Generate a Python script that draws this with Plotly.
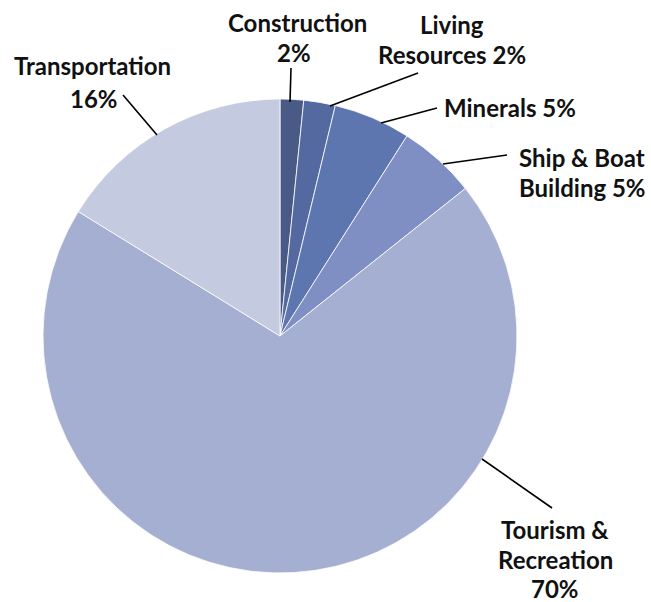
import plotly.graph_objects as go

# Data
categories = ["Construction", "Living Resources", "Minerals", "Ship & Boat Building",
              "Tourism & Recreation", "Transportation"]
values = [1.6, 2.15, 5.25, 5.3, 69.5, 16.2]
pct_labels = ["2%", "2%", "5%", "5%", "70%", "16%"]
colors = ["#4a5a86", "#53699f", "#5e76b0", "#7f8fc3", "#a5afd2", "#c4cadf"]

W, H = 651, 602
CX, CY, R = 280, 336, 237

def px(x):
    return x / W

def py(y):
    return 1 - y / H

fig = go.Figure(go.Pie(
    labels=categories,
    values=values,
    sort=False,
    direction="clockwise",
    rotation=0,
    marker=dict(colors=colors, line=dict(color="white", width=0.8)),
    textinfo="none",
    hoverinfo="label+percent",
    showlegend=False,
    domain=dict(x=[px(CX - R), px(CX + R)], y=[py(CY + R), py(CY - R)]),
))

FONT = dict(family="Lato", size=24, color="#111111", weight="bold")

# label lines: (text, x, y, xanchor)
label_lines = [
    ("Construction", 297, 22, "center"),
    ("2%", 294, 52, "center"),
    ("Living", 452, 25, "center"),
    ("Resources 2%", 452, 55, "center"),
    ("Minerals 5%", 510, 107, "center"),
    ("Ship & Boat", 517, 157, "left"),
    ("Building 5%", 517, 187, "left"),
    ("Tourism &", 555, 529, "center"),
    ("Recreation", 555, 559, "center"),
    ("70%", 555, 588, "center"),
    ("Transportation", 92, 66, "center"),
    ("16%", 94, 98, "center"),
]
annotations = []
for t, x, y, xa in label_lines:
    annotations.append(dict(text=t, x=px(x), y=py(y), xref="paper", yref="paper",
                            xanchor=xa, yanchor="middle", showarrow=False, font=FONT))

# leader lines (pixel endpoints)
leaders = [
    (290, 102, 291, 68),
    (330, 106, 418, 73),
    (381, 123, 437, 108),
    (443, 164, 507, 155),
    (482, 459, 552, 508),
    (157, 135, 123, 95),
]
shapes = []
for x0, y0, x1, y1 in leaders:
    shapes.append(dict(type="line", xref="paper", yref="paper",
                       x0=px(x0), y0=py(y0), x1=px(x1), y1=py(y1),
                       line=dict(color="black", width=1.6)))

fig.update_layout(
    width=W, height=H,
    margin=dict(l=0, r=0, t=0, b=0),
    paper_bgcolor="white", plot_bgcolor="white",
    annotations=annotations, shapes=shapes,
)

fig.write_html("out.html", config={"displayModeBar": False},
               post_script="document.body.style.margin='0px';document.body.style.overflow='hidden';")
